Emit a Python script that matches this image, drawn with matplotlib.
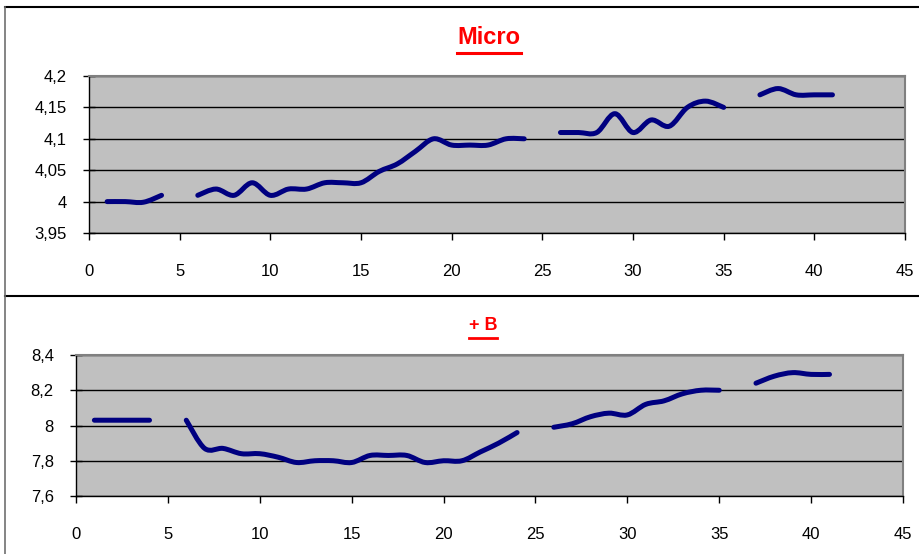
import numpy as np
import matplotlib
matplotlib.use("Agg")
import matplotlib.pyplot as plt
from matplotlib.path import Path
from matplotlib.patches import PathPatch
from matplotlib.lines import Line2D
from matplotlib.ticker import FuncFormatter

plt.rcParams["font.family"] = ["Liberation Sans", "DejaVu Sans"]

nan = np.nan
x_vals = list(range(1, 42))
micro = [4.00, 4.00, 3.999, 4.01, nan, 4.01, 4.02, 4.01, 4.03, 4.01,
         4.02, 4.02, 4.03, 4.03, 4.03, 4.048, 4.06, 4.08, 4.10, 4.09,
         4.09, 4.09, 4.10, 4.10, nan, 4.11, 4.11, 4.11, 4.14, 4.11,
         4.13, 4.12, 4.15, 4.16, 4.15, nan, 4.17, 4.18, 4.17, 4.17, 4.17]
plus_b = [8.03, 8.03, 8.03, 8.03, nan, 8.03, 7.87, 7.87, 7.84, 7.84,
          7.82, 7.79, 7.80, 7.80, 7.79, 7.83, 7.83, 7.83, 7.79, 7.80,
          7.80, 7.85, 7.90, 7.96, nan, 7.99, 8.01, 8.05, 8.07, 8.06,
          8.12, 8.14, 8.18, 8.20, 8.20, nan, 8.24, 8.28, 8.30, 8.29, 8.29]

NAVY = "#000080"
GRAY = "#C0C0C0"


def smooth_path(xs, ys):
    # Excel-style smoothed line: cubic bezier through the points, split at gaps
    verts, codes = [], []
    xs = np.asarray(xs, float)
    ys = np.asarray(ys, float)
    ok = ~np.isnan(ys)
    runs, cur = [], []
    for i in range(len(xs)):
        if ok[i]:
            cur.append(i)
        elif cur:
            runs.append(cur)
            cur = []
    if cur:
        runs.append(cur)
    for r in runs:
        px, py = xs[r], ys[r]
        n = len(px)
        verts.append((px[0], py[0]))
        codes.append(Path.MOVETO)
        for k in range(n - 1):
            k0 = max(k - 1, 0)
            k3 = min(k + 2, n - 1)
            c1 = (px[k] + (px[k + 1] - px[k0]) / 6, py[k] + (py[k + 1] - py[k0]) / 6)
            c2 = (px[k + 1] - (px[k3] - px[k]) / 6, py[k + 1] - (py[k3] - py[k]) / 6)
            verts += [c1, c2, (px[k + 1], py[k + 1])]
            codes += [Path.CURVE4] * 3
    return Path(verts, codes)


def style_axes(ax, ymin, ymax, ystep, fmt):
    ax.set_facecolor(GRAY)
    ax.set_xlim(0, 45)
    ax.set_ylim(ymin, ymax)
    ax.set_xticks(range(0, 46, 5))
    ax.set_yticks(np.arange(ymin, ymax + ystep / 2, ystep))
    ax.yaxis.set_major_formatter(FuncFormatter(fmt))
    ax.grid(axis="y", color="black", linewidth=1.0)
    ax.set_axisbelow(True)
    for s in ["top", "right"]:
        ax.spines[s].set_color("#808080")
        ax.spines[s].set_linewidth(1.5)
    for s in ["left", "bottom"]:
        ax.spines[s].set_color("black")
        ax.spines[s].set_linewidth(1.0)
    ax.tick_params(axis="x", direction="out", length=5, width=1, pad=17, labelsize=12)
    ax.tick_params(axis="y", direction="inout", length=8, width=1, pad=12, labelsize=12)


def comma(v, decimals):
    s = ("%." + str(decimals) + "f") % v
    s = s.rstrip("0").rstrip(".") if "." in s else s
    return s.replace(".", ",")


fig = plt.figure(figsize=(9.2, 5.54), dpi=100)
W, H = 920, 554

ax1 = fig.add_axes([89 / W, 1 - 233 / H, 816 / W, 157 / H])
style_axes(ax1, 3.95, 4.2, 0.05, lambda v, p: comma(v, 2))
ax1.add_patch(PathPatch(smooth_path(x_vals, micro), facecolor="none", edgecolor=NAVY,
                        linewidth=3.6, capstyle="round", joinstyle="round", zorder=3))

ax2 = fig.add_axes([76 / W, 1 - 496 / H, 827 / W, 141 / H])
style_axes(ax2, 7.6, 8.4, 0.2, lambda v, p: comma(v, 1))
ax2.add_patch(PathPatch(smooth_path(x_vals, plus_b), facecolor="none", edgecolor=NAVY,
                        linewidth=3.6, capstyle="round", joinstyle="round", zorder=3))

# chart borders
fig.add_artist(Line2D([5 / W, 1], [1 - 7 / H, 1 - 7 / H], color="black", linewidth=1.5))
fig.add_artist(Line2D([5 / W, 1], [1 - 295.5 / H, 1 - 295.5 / H], color="black", linewidth=1.5))
fig.add_artist(Line2D([5 / W, 5 / W], [0, 1 - 7 / H], color="#707070", linewidth=1.2))

# titles, red bold underlined (condensed face like the original)
narrow = ["Liberation Sans Narrow", "Liberation Sans", "DejaVu Sans"]
t1 = fig.text(489 / W, 1 - 38 / H, "Micro", color="red", fontsize=17, fontweight="bold",
              ha="center", va="center", family=narrow)
t2 = fig.text(483 / W, 1 - 326 / H, "+ B", color="red", fontsize=13, fontweight="bold",
              ha="center", va="center", family=narrow)
fig.canvas.draw()
r = fig.canvas.get_renderer()
for t, off, lw in [(t1, 3, 2.2), (t2, 3, 2.0)]:
    bb = t.get_window_extent(r)
    y = (bb.y0 - off) / H
    fig.add_artist(Line2D([bb.x0 / W, bb.x1 / W], [y, y], color="red", linewidth=lw))

fig.savefig("out.png", dpi=100)
